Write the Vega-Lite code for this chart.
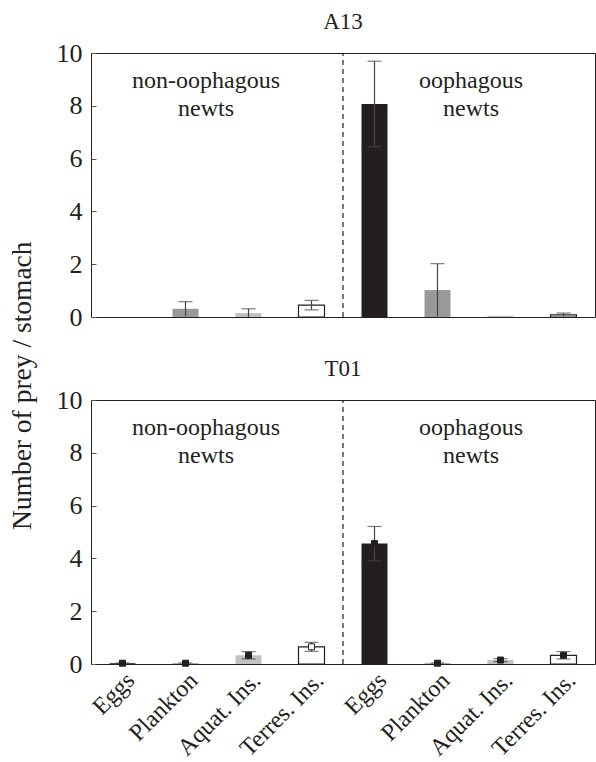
{
  "$schema": "https://vega.github.io/schema/vega-lite/v6.json",
  "padding": {"left": 8, "top": 10, "right": 0, "bottom": 0},
  "title": {"text": "Number of prey / stomach", "orient": "left", "anchor": "middle", "font": "Liberation Serif", "fontSize": 27.5, "color": "#231f20", "offset": 19},
  "config": {
    "view": {"stroke": "#231f20", "strokeWidth": 1},
    "axis": {"labelFont": "Liberation Serif", "titleFont": "Liberation Serif", "labelColor": "#231f20", "titleColor": "#231f20", "domainColor": "#555555", "tickColor": "#555555", "grid": false},
    "title": {"font": "Liberation Serif", "fontWeight": "normal", "color": "#231f20"},
    "text": {"font": "Liberation Serif"}
  },
  "data": {
    "values": [
      {"kind": "bar", "panel": "A13", "cat": "n|Eggs", "prey": "Eggs", "mean": 0, "lo": 0, "hi": 0},
      {"kind": "bar", "panel": "A13", "cat": "n|Plankton", "prey": "Plankton", "mean": 0.31, "lo": 0.04, "hi": 0.58},
      {"kind": "bar", "panel": "A13", "cat": "n|Aquat. Ins.", "prey": "Aquat. Ins.", "mean": 0.15, "lo": 0, "hi": 0.31},
      {"kind": "bar", "panel": "A13", "cat": "n|Terres. Ins.", "prey": "Terres. Ins.", "mean": 0.45, "lo": 0.27, "hi": 0.63},
      {"kind": "bar", "panel": "A13", "cat": "o|Eggs", "prey": "Eggs", "mean": 8.07, "lo": 6.45, "hi": 9.69},
      {"kind": "bar", "panel": "A13", "cat": "o|Plankton", "prey": "Plankton", "mean": 1.02, "lo": 0.02, "hi": 2.02},
      {"kind": "bar", "panel": "A13", "cat": "o|Aquat. Ins.", "prey": "Aquat. Ins.", "mean": 0.05, "lo": 0.05, "hi": 0.05},
      {"kind": "bar", "panel": "A13", "cat": "o|Terres. Ins.", "prey": "Terres. Ins.", "mean": 0.08, "lo": 0.02, "hi": 0.15},
      {"kind": "bar", "panel": "T01", "cat": "n|Eggs", "prey": "Eggs", "mean": 0.03, "lo": 0.02, "hi": 0.04},
      {"kind": "bar", "panel": "T01", "cat": "n|Plankton", "prey": "Plankton", "mean": 0.03, "lo": 0.02, "hi": 0.04},
      {"kind": "bar", "panel": "T01", "cat": "n|Aquat. Ins.", "prey": "Aquat. Ins.", "mean": 0.33, "lo": 0.19, "hi": 0.47},
      {"kind": "bar", "panel": "T01", "cat": "n|Terres. Ins.", "prey": "Terres. Ins.", "mean": 0.65, "lo": 0.48, "hi": 0.82},
      {"kind": "bar", "panel": "T01", "cat": "o|Eggs", "prey": "Eggs", "mean": 4.56, "lo": 3.91, "hi": 5.21},
      {"kind": "bar", "panel": "T01", "cat": "o|Plankton", "prey": "Plankton", "mean": 0.03, "lo": 0.02, "hi": 0.04},
      {"kind": "bar", "panel": "T01", "cat": "o|Aquat. Ins.", "prey": "Aquat. Ins.", "mean": 0.15, "lo": 0.09, "hi": 0.2},
      {"kind": "bar", "panel": "T01", "cat": "o|Terres. Ins.", "prey": "Terres. Ins.", "mean": 0.33, "lo": 0.19, "hi": 0.47},
      {"kind": "divider", "panel": "A13", "cat": "o|Eggs"},
      {"kind": "divider", "panel": "T01", "cat": "o|Eggs"},
      {"kind": "label", "panel": "A13", "group": "n", "cat": "n|Aquat. Ins."},
      {"kind": "label", "panel": "A13", "group": "o", "cat": "o|Aquat. Ins."},
      {"kind": "label", "panel": "T01", "group": "n", "cat": "n|Aquat. Ins."},
      {"kind": "label", "panel": "T01", "group": "o", "cat": "o|Aquat. Ins."}
    ]
  },
  "spacing": 26,
  "vconcat": [
    {
      "title": {"text": "A13", "fontSize": 23, "anchor": "middle", "offset": 6},
      "width": 504,
      "height": 264,
      "transform": [{"filter": "datum.panel == 'A13'"}],
      "encoding": {
        "x": {
          "field": "cat", "type": "nominal",
          "scale": {"domain": ["n|Eggs", "n|Plankton", "n|Aquat. Ins.", "n|Terres. Ins.", "o|Eggs", "o|Plankton", "o|Aquat. Ins.", "o|Terres. Ins."], "paddingInner": 0, "paddingOuter": 0},
          "axis": {"title": null, "labels": false, "ticks": false, "domain": false}
        }
      },
      "layer": [
        {
          "transform": [{"filter": "datum.kind == 'bar'"}],
          "mark": {"type": "bar", "size": 26, "stroke": "#231f20"},
          "encoding": {
            "y": {
              "field": "mean", "type": "quantitative",
              "scale": {"domain": [0, 10], "nice": false},
              "axis": {"title": null, "values": [0, 2, 4, 6, 8, 10], "labelFontSize": 26, "tickSize": -5, "labelPadding": 14, "domain": false}
            },
            "color": {
              "field": "prey", "type": "nominal", "legend": null,
              "scale": {"domain": ["Eggs", "Plankton", "Aquat. Ins.", "Terres. Ins."], "range": ["#231f20", "#999999", "#c2c2c2", "#ffffff"]}
            },
            "strokeWidth": {"condition": {"test": "datum.prey == 'Terres. Ins.'", "value": 1.2}, "value": 0}
          }
        },
        {
          "transform": [{"filter": "datum.kind == 'bar' && datum.hi > datum.lo"}],
          "mark": {"type": "rule", "color": "#444444", "strokeWidth": 1.2},
          "encoding": {"y": {"field": "lo", "type": "quantitative"}, "y2": {"field": "hi"}}
        },
        {
          "transform": [{"filter": "datum.kind == 'bar' && datum.hi > datum.lo"}],
          "mark": {"type": "tick", "color": "#444444", "thickness": 1.2, "size": 14},
          "encoding": {"y": {"field": "hi", "type": "quantitative"}}
        },
        {
          "transform": [{"filter": "datum.kind == 'bar' && datum.hi > datum.lo && datum.lo > 0.05"}],
          "mark": {"type": "tick", "color": "#444444", "thickness": 1.2, "size": 14},
          "encoding": {"y": {"field": "lo", "type": "quantitative"}}
        },
        {
          "transform": [{"filter": "datum.kind == 'divider'"}],
          "mark": {"type": "rule", "color": "#231f20", "strokeDash": [5, 4], "strokeWidth": 1.2},
          "encoding": {"x": {"field": "cat", "type": "nominal", "bandPosition": 0}, "y": {"datum": 0}, "y2": {"datum": 10}}
        },
        {
          "transform": [{"filter": "datum.kind == 'label' && datum.group == 'n'"}],
          "mark": {"type": "text", "text": ["non-oophagous", "newts"], "font": "Liberation Serif", "fontSize": 24, "lineHeight": 28, "baseline": "middle", "align": "center", "color": "#231f20", "dx": -11},
          "encoding": {"x": {"field": "cat", "type": "nominal", "bandPosition": 0}, "y": {"datum": 8.93}}
        },
        {
          "transform": [{"filter": "datum.kind == 'label' && datum.group == 'o'"}],
          "mark": {"type": "text", "text": ["oophagous", "newts"], "font": "Liberation Serif", "fontSize": 24, "lineHeight": 28, "baseline": "middle", "align": "center", "color": "#231f20", "dx": 2},
          "encoding": {"x": {"field": "cat", "type": "nominal", "bandPosition": 0}, "y": {"datum": 8.93}}
        }
      ]
    },
    {
      "title": {"text": "T01", "fontSize": 23, "anchor": "middle", "offset": 6},
      "width": 504,
      "height": 264,
      "transform": [{"filter": "datum.panel == 'T01'"}],
      "encoding": {
        "x": {
          "field": "cat", "type": "nominal",
          "scale": {"domain": ["n|Eggs", "n|Plankton", "n|Aquat. Ins.", "n|Terres. Ins.", "o|Eggs", "o|Plankton", "o|Aquat. Ins.", "o|Terres. Ins."], "paddingInner": 0, "paddingOuter": 0},
          "axis": {"title": null, "labelExpr": "split(datum.value, '|')[1]", "labelAngle": -45, "labelAlign": "right", "labelBaseline": "top", "labelFontSize": 24, "ticks": false, "domain": false, "labelPadding": 4}
        }
      },
      "layer": [
        {
          "transform": [{"filter": "datum.kind == 'bar'"}],
          "mark": {"type": "bar", "size": 26, "stroke": "#231f20"},
          "encoding": {
            "y": {
              "field": "mean", "type": "quantitative",
              "scale": {"domain": [0, 10], "nice": false},
              "axis": {"title": null, "values": [0, 2, 4, 6, 8, 10], "labelFontSize": 26, "tickSize": -5, "labelPadding": 14, "domain": false}
            },
            "color": {
              "field": "prey", "type": "nominal", "legend": null,
              "scale": {"domain": ["Eggs", "Plankton", "Aquat. Ins.", "Terres. Ins."], "range": ["#231f20", "#999999", "#c2c2c2", "#ffffff"]}
            },
            "strokeWidth": {"condition": {"test": "datum.prey == 'Terres. Ins.'", "value": 1.2}, "value": 0}
          }
        },
        {
          "transform": [{"filter": "datum.kind == 'bar' && datum.hi > datum.lo"}],
          "mark": {"type": "rule", "color": "#444444", "strokeWidth": 1.2},
          "encoding": {"y": {"field": "lo", "type": "quantitative"}, "y2": {"field": "hi"}}
        },
        {
          "transform": [{"filter": "datum.kind == 'bar' && datum.hi > datum.lo"}],
          "mark": {"type": "tick", "color": "#444444", "thickness": 1.2, "size": 14},
          "encoding": {"y": {"field": "hi", "type": "quantitative"}}
        },
        {
          "transform": [{"filter": "datum.kind == 'bar' && datum.hi > datum.lo && datum.lo > 0.05"}],
          "mark": {"type": "tick", "color": "#444444", "thickness": 1.2, "size": 14},
          "encoding": {"y": {"field": "lo", "type": "quantitative"}}
        },
        {
          "transform": [{"filter": "datum.kind == 'bar'"}],
          "mark": {"type": "point", "shape": "square", "size": 36, "filled": true, "stroke": "#231f20", "strokeWidth": 1, "opacity": 1},
          "encoding": {
            "y": {"field": "mean", "type": "quantitative"},
            "fill": {"condition": {"test": "datum.cat == 'n|Terres. Ins.'", "value": "#ffffff"}, "value": "#231f20"}
          }
        },
        {
          "transform": [{"filter": "datum.kind == 'divider'"}],
          "mark": {"type": "rule", "color": "#231f20", "strokeDash": [5, 4], "strokeWidth": 1.2},
          "encoding": {"x": {"field": "cat", "type": "nominal", "bandPosition": 0}, "y": {"datum": 0}, "y2": {"datum": 10}}
        },
        {
          "transform": [{"filter": "datum.kind == 'label' && datum.group == 'n'"}],
          "mark": {"type": "text", "text": ["non-oophagous", "newts"], "font": "Liberation Serif", "fontSize": 24, "lineHeight": 28, "baseline": "middle", "align": "center", "color": "#231f20", "dx": -11},
          "encoding": {"x": {"field": "cat", "type": "nominal", "bandPosition": 0}, "y": {"datum": 8.93}}
        },
        {
          "transform": [{"filter": "datum.kind == 'label' && datum.group == 'o'"}],
          "mark": {"type": "text", "text": ["oophagous", "newts"], "font": "Liberation Serif", "fontSize": 24, "lineHeight": 28, "baseline": "middle", "align": "center", "color": "#231f20", "dx": 2},
          "encoding": {"x": {"field": "cat", "type": "nominal", "bandPosition": 0}, "y": {"datum": 8.93}}
        }
      ]
    }
  ]
}
